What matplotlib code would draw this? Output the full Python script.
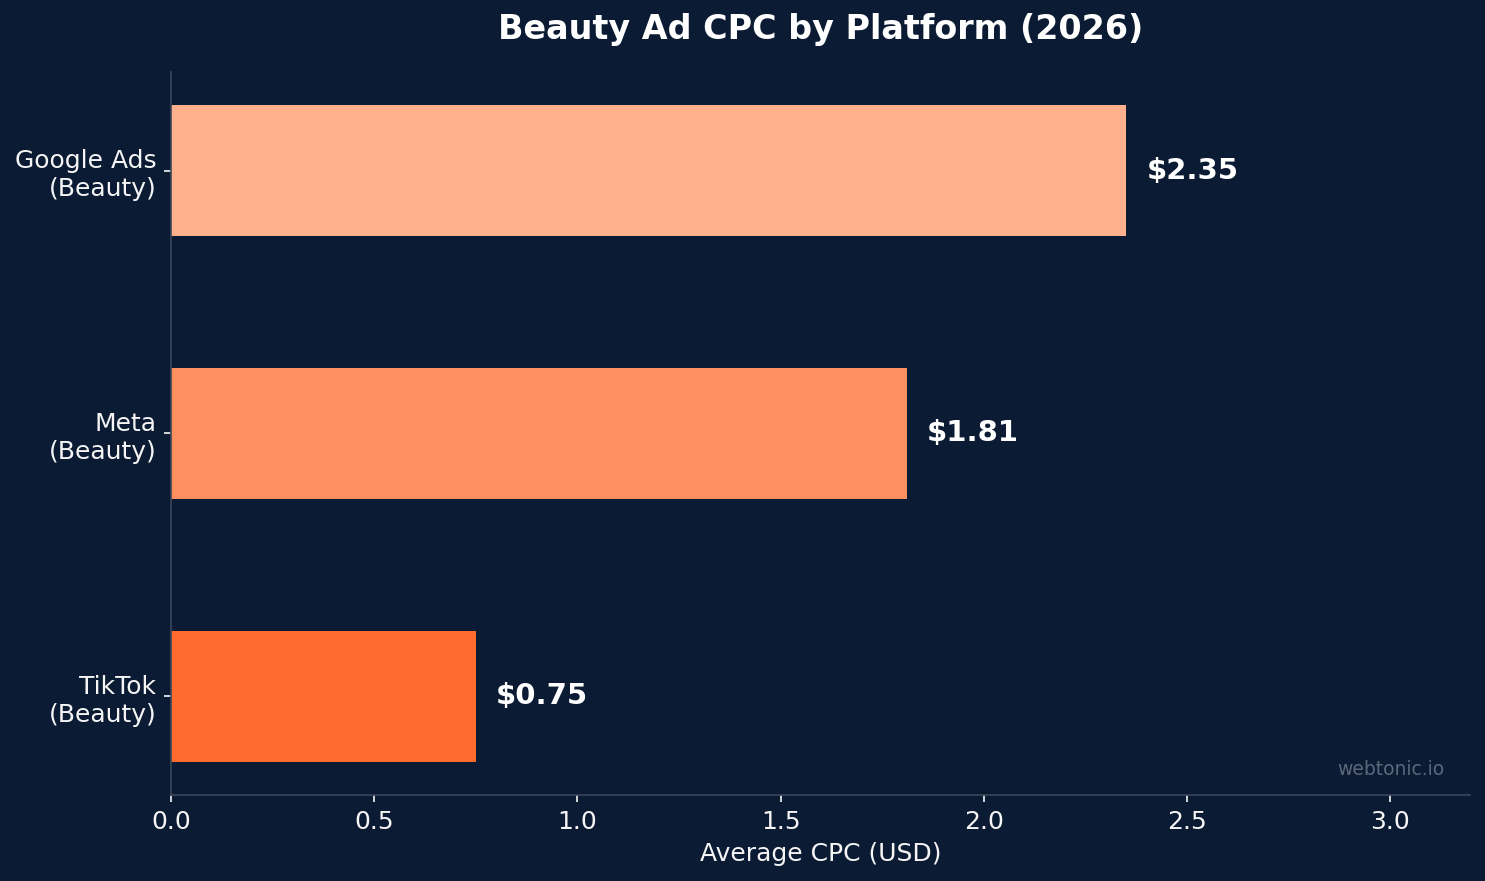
import matplotlib
matplotlib.use("Agg")
import matplotlib.pyplot as plt

platforms = ["TikTok\n(Beauty)", "Meta\n(Beauty)", "Google Ads\n(Beauty)"]
cpc = [0.75, 1.81, 2.35]
bar_colors = ["#FF6B2C", "#FF8F5E", "#FFB08C"]
value_labels = ["$0.75", "$1.81", "$2.35"]

BG = "#0B1B33"
SPINE = "#3A4659"
TXT = "#F5F5F5"

fig = plt.figure(figsize=(9.9, 881 / 150), dpi=150, facecolor=BG)
ax = fig.add_axes([171 / 1485, 1 - 795 / 881, (1470 - 171) / 1485, (795 - 72) / 881])
ax.set_facecolor(BG)

y = list(range(len(platforms)))
ax.barh(y, cpc, height=0.5, color=bar_colors)
for yi, v, lab in zip(y, cpc, value_labels):
    ax.text(v + 0.05, yi, lab, va="center", ha="left", color="white",
            fontsize=14, fontweight="bold")

ax.set_yticks(y)
ax.set_yticklabels(platforms)
ax.set_xlim(0, max(cpc) * 1.36)
ax.set_xticks([0, 0.5, 1.0, 1.5, 2.0, 2.5, 3.0])
ax.tick_params(colors=TXT, labelsize=12)
for s in ["top", "right"]:
    ax.spines[s].set_visible(False)
for s in ["left", "bottom"]:
    ax.spines[s].set_color(SPINE)

ax.set_xlabel("Average CPC (USD)", color=TXT, fontsize=12)
ax.set_title("Beauty Ad CPC by Platform (2026)", color="white", fontsize=16,
             fontweight="bold", pad=16)
ax.text(0.98, 0.035, "webtonic.io", transform=ax.transAxes, ha="right", va="center",
        color="#5C6779", fontsize=9)

fig.savefig("out.png", dpi=150, facecolor=BG)
